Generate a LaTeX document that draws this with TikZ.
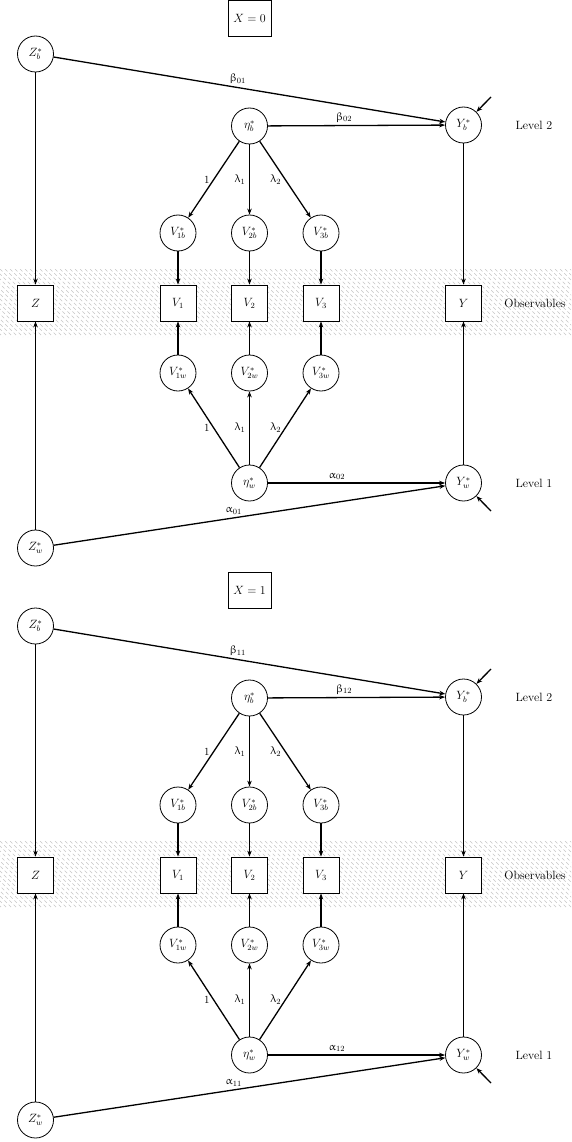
\documentclass[tikz,border=0pt]{standalone}
\usepackage{upgreek}
\usetikzlibrary{arrows.meta}
\begin{document}
\begin{tikzpicture}[x=1pt,y=-1pt,
  font=\fontsize{12}{14}\selectfont,
  lat/.style={circle,draw,line width=0.8pt,minimum size=36pt,inner sep=0pt,fill=white},
  obs/.style={rectangle,draw,line width=0.8pt,minimum size=36pt,inner sep=0pt,fill=white},
  arr/.style={line width=1.3pt,-{Stealth[length=6pt,width=4.5pt]}},
  lab/.style={font=\fontsize{11}{13}\selectfont,inner sep=1.5pt},
  hatch/.style={gray!45,line width=0.6pt,dash pattern=on 3.5pt off 2.5pt}]
\useasboundingbox (0,0) rectangle (571,1142);
\foreach \p/\off in {0/0,1/572}{
  \begin{scope}
    \clip (0,\off+269) rectangle (571,\off+337);
    \foreach \i in {-70,-65,...,575}{
      \draw[hatch] (\i,\off+269) -- (\i+68,\off+337);
    }
  \end{scope}
  \node[obs,minimum width=43pt] (X\p) at (249.5,\off+18) {$X=\p$};
  \node[lat] (Zb\p) at (35.5,\off+54) {$Z_b^*$};
  \node[lat] (eb\p) at (249.5,\off+126) {$\eta_b^*$};
  \node[lat] (Yb\p) at (463.5,\off+125) {$Y_b^*$};
  \node (L2\p) at (534,\off+125) {Level 2};
  \node[lat] (V1b\p) at (178,\off+233) {$V_{1b}^*$};
  \node[lat] (V2b\p) at (249.5,\off+233) {$V_{2b}^*$};
  \node[lat] (V3b\p) at (321,\off+233) {$V_{3b}^*$};
  \node[obs] (Z\p) at (35.5,\off+303) {$Z$};
  \node[obs] (V1\p) at (178,\off+303) {$V_1$};
  \node[obs] (V2\p) at (249.5,\off+303) {$V_2$};
  \node[obs] (V3\p) at (321,\off+303) {$V_3$};
  \node[obs] (Y\p) at (463.5,\off+303) {$Y$};
  \node (Ob\p) at (535,\off+303) {Observables};
  \node[lat] (V1w\p) at (178,\off+373) {$V_{1w}^*$};
  \node[lat] (V2w\p) at (249.5,\off+373) {$V_{2w}^*$};
  \node[lat] (V3w\p) at (321,\off+373) {$V_{3w}^*$};
  \node[lat] (ew\p) at (249.5,\off+483) {$\eta_w^*$};
  \node[lat] (Yw\p) at (463.5,\off+483) {$Y_w^*$};
  \node (L1\p) at (534,\off+483) {Level 1};
  \node[lat] (Zw\p) at (35.5,\off+548) {$Z_w^*$};
  \coordinate (eYb\p) at (491,\off+97);
  \coordinate (eYw\p) at (491,\off+511);
  % level 2
  \draw[arr] (Zb\p) -- node[lab,pos=0.47,above=1.5pt] {$\upbeta_{\p1}$} (Yb\p);
  \draw[arr] (eb\p) -- node[lab,pos=0.43,above=1pt] {$\upbeta_{\p2}$} (Yb\p);
  \draw[arr] (eYb\p) -- (Yb\p);
  \draw[arr] (eb\p) -- node[lab,pos=0.5,left=2pt] {$1$} (V1b\p);
  \draw[arr] (eb\p) -- node[lab,pos=0.5,left=2pt] {$\uplambda_1$} (V2b\p);
  \draw[arr] (eb\p) -- node[lab,pos=0.5,left=2pt] {$\uplambda_2$} (V3b\p);
  \draw[arr] (Zb\p) -- (Z\p);
  \draw[arr] (V1b\p) -- (V1\p);
  \draw[arr] (V2b\p) -- (V2\p);
  \draw[arr] (V3b\p) -- (V3\p);
  \draw[arr] (Yb\p) -- (Y\p);
  % level 1
  \draw[arr] (Zw\p) -- (Z\p);
  \draw[arr] (V1w\p) -- (V1\p);
  \draw[arr] (V2w\p) -- (V2\p);
  \draw[arr] (V3w\p) -- (V3\p);
  \draw[arr] (Yw\p) -- (Y\p);
  \draw[arr] (ew\p) -- node[lab,pos=0.5,left=2pt] {$1$} (V1w\p);
  \draw[arr] (ew\p) -- node[lab,pos=0.5,left=2pt] {$\uplambda_1$} (V2w\p);
  \draw[arr] (ew\p) -- node[lab,pos=0.5,left=2pt] {$\uplambda_2$} (V3w\p);
  \draw[arr] (ew\p) -- node[lab,pos=0.39,above=1pt] {$\upalpha_{\p2}$} (Yw\p);
  \draw[arr] (Zw\p) -- node[lab,pos=0.46,above=1.5pt] {$\upalpha_{\p1}$} (Yw\p);
  \draw[arr] (eYw\p) -- (Yw\p);
}
\end{tikzpicture}
\end{document}
